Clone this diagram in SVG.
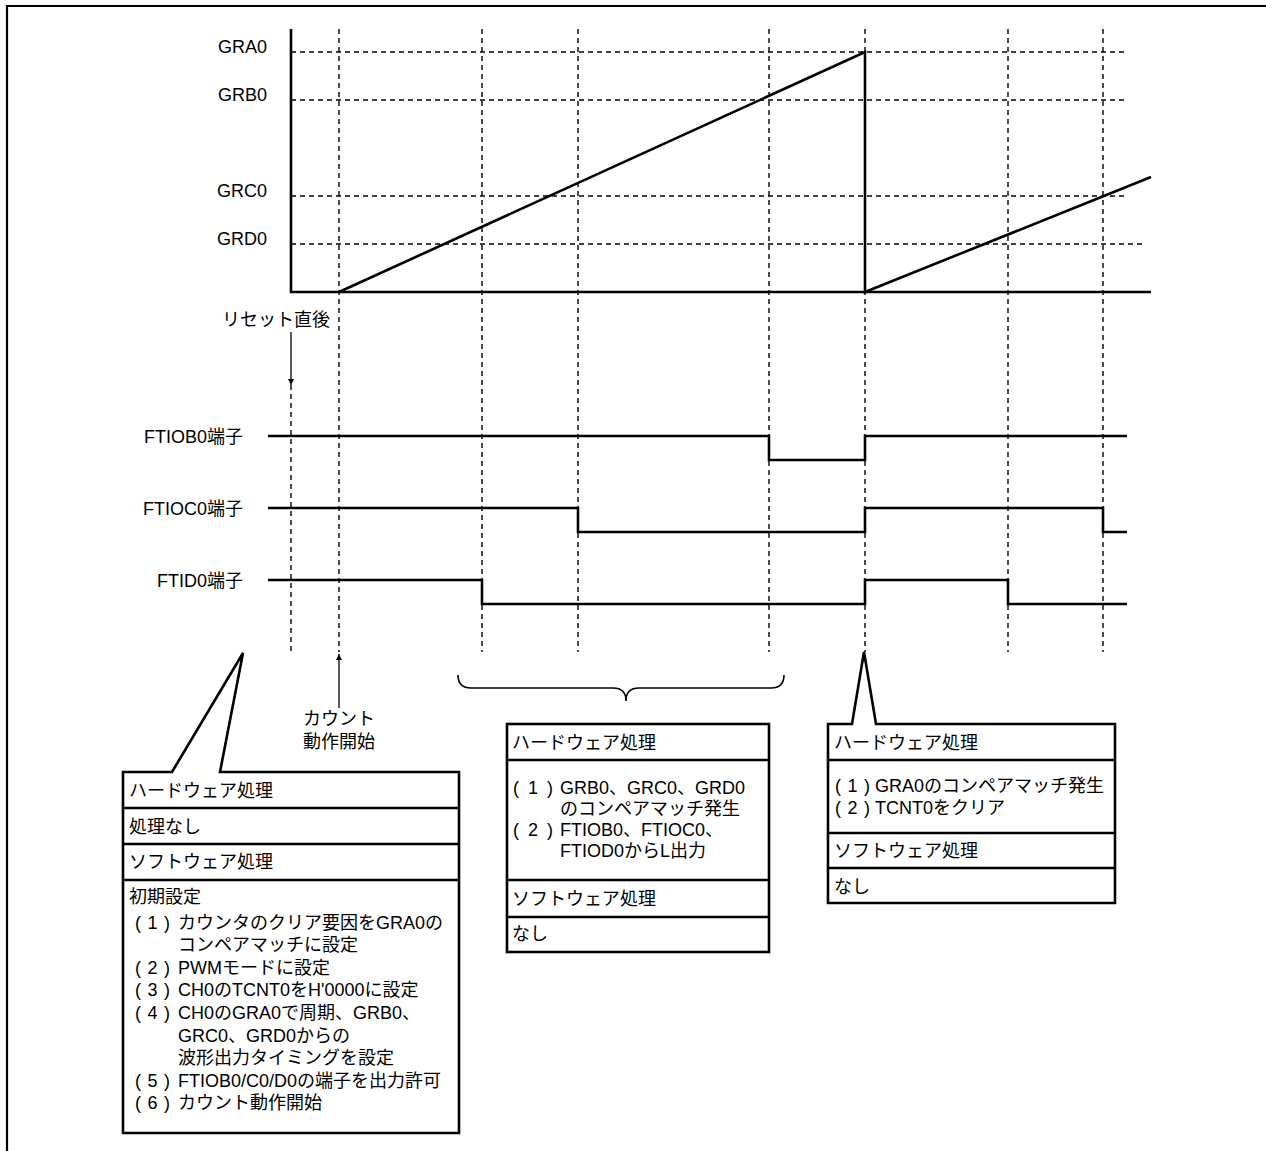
<svg xmlns="http://www.w3.org/2000/svg" width="1266" height="1151" viewBox="0 0 1266 1151">
<style>
text{font-family:"Liberation Sans","Noto Sans CJK JP",sans-serif;font-size:18px;fill:#000}
.r{text-anchor:end}
.dash{stroke:#000;stroke-width:1.4;stroke-dasharray:5,4;fill:none}
.sig{stroke:#000;stroke-width:2.6;fill:none}
.box{stroke:#000;stroke-width:2.6;fill:#fff}
.sep{stroke:#000;stroke-width:2.6}
.thin{stroke:#000;stroke-width:1.3;fill:none}
</style>
<defs>
<marker id="ah" viewBox="0 0 10 10" refX="10" refY="5" markerWidth="6" markerHeight="10" markerUnits="userSpaceOnUse" orient="auto">
<path d="M0,0 L10,5 L0,10 Z" fill="#000"/>
</marker>
</defs>
<rect width="1266" height="1151" fill="#fff"/>
<path d="M7,1151 L7,6 L1266,6" fill="none" stroke="#000" stroke-width="2.2"/>

<g id="grid">
<line class="dash" x1="291" y1="52" x2="1125" y2="52"/>
<line class="dash" x1="291" y1="100" x2="1125" y2="100"/>
<line class="dash" x1="291" y1="196" x2="1125" y2="196"/>
<line class="dash" x1="291" y1="244" x2="1146" y2="244"/>
<line class="dash" x1="339" y1="29" x2="339" y2="652"/>
<line class="dash" x1="482" y1="29" x2="482" y2="652"/>
<line class="dash" x1="578" y1="29" x2="578" y2="652"/>
<line class="dash" x1="769" y1="29" x2="769" y2="652"/>
<line class="dash" x1="865" y1="29" x2="865" y2="652"/>
<line class="dash" x1="1008" y1="29" x2="1008" y2="652"/>
<line class="dash" x1="1103" y1="29" x2="1103" y2="652"/>
<line class="dash" x1="291" y1="385" x2="291" y2="652"/>
</g>

<g id="labels">
<text class="r" x="267" y="53">GRA0</text>
<text class="r" x="267" y="101">GRB0</text>
<text class="r" x="267" y="197">GRC0</text>
<text class="r" x="267" y="245">GRD0</text>
<text class="r" x="243" y="443">FTIOB0端子</text>
<text class="r" x="243" y="515">FTIOC0端子</text>
<text class="r" x="243" y="587">FTID0端子</text>
<text x="222" y="326">リセット直後</text>
<text x="303" y="725">カウント</text>
<text x="303" y="748">動作開始</text>
</g>

<g id="counter">
<path class="sig" d="M291,29 L291,292 L1151,292"/>
<path class="sig" d="M339,292 L865,52 L865,292 L1151,177"/>
</g>

<g id="signals">
<path class="sig" d="M268,436 L769,436 L769,460 L865,460 L865,436 L1127,436"/>
<path class="sig" d="M268,508 L578,508 L578,532 L865,532 L865,508 L1103,508 L1103,532 L1127,532"/>
<path class="sig" d="M268,580 L482,580 L482,604 L865,604 L865,580 L1008,580 L1008,604 L1127,604"/>
</g>

<g id="connectors">
<line class="thin" x1="291" y1="332" x2="291" y2="385" marker-end="url(#ah)"/>
<line class="thin" x1="339" y1="708" x2="339" y2="654" marker-end="url(#ah)"/>
<path d="M458,675 Q458,688 471,688 L613,688 Q626,688 626,701 Q626,688 639,688 L771,688 Q784,688 784,675" fill="none" stroke="#000" stroke-width="1.6"/>
</g>

<g id="box-left">
<path class="box" d="M123,772 L172,772 L243,653 L220,772 L459,772 L459,1133 L123,1133 Z"/>
<line class="sep" x1="123" y1="808" x2="459" y2="808"/>
<line class="sep" x1="123" y1="844" x2="459" y2="844"/>
<line class="sep" x1="123" y1="880" x2="459" y2="880"/>
<text x="129" y="797">ハードウェア処理</text>
<text x="129" y="833">処理なし</text>
<text x="129" y="868">ソフトウェア処理</text>
<text x="129" y="903">初期設定</text>
<text x="135" y="929" textLength="35" lengthAdjust="spacing">( 1 )</text>
<text x="178" y="929">カウンタのクリア要因をGRA0の</text>
<text x="178" y="951">コンペアマッチに設定</text>
<text x="135" y="974" textLength="35" lengthAdjust="spacing">( 2 )</text>
<text x="178" y="974">PWMモードに設定</text>
<text x="135" y="996" textLength="35" lengthAdjust="spacing">( 3 )</text>
<text x="178" y="996">CH0のTCNT0をH'0000に設定</text>
<text x="135" y="1019" textLength="35" lengthAdjust="spacing">( 4 )</text>
<text x="178" y="1019">CH0のGRA0で周期、GRB0、</text>
<text x="178" y="1042">GRC0、GRD0からの</text>
<text x="178" y="1064">波形出力タイミングを設定</text>
<text x="135" y="1087" textLength="35" lengthAdjust="spacing">( 5 )</text>
<text x="178" y="1087">FTIOB0/C0/D0の端子を出力許可</text>
<text x="135" y="1109" textLength="35" lengthAdjust="spacing">( 6 )</text>
<text x="178" y="1109">カウント動作開始</text>
</g>

<g id="box-middle">
<rect class="box" x="507" y="724" width="262" height="228"/>
<line class="sep" x1="507" y1="760" x2="769" y2="760"/>
<line class="sep" x1="507" y1="880" x2="769" y2="880"/>
<line class="sep" x1="507" y1="917" x2="769" y2="917"/>
<text x="512" y="749">ハードウェア処理</text>
<text x="513" y="794" textLength="40" lengthAdjust="spacing">( 1 )</text>
<text x="560" y="794">GRB0、GRC0、GRD0</text>
<text x="560" y="815">のコンペアマッチ発生</text>
<text x="513" y="836" textLength="40" lengthAdjust="spacing">( 2 )</text>
<text x="560" y="836">FTIOB0、FTIOC0、</text>
<text x="560" y="857">FTIOD0からL出力</text>
<text x="512" y="905">ソフトウェア処理</text>
<text x="512" y="940">なし</text>
</g>

<g id="box-right">
<path class="box" d="M828,724 L852,724 L864,652 L876,724 L1115,724 L1115,903 L828,903 Z"/>
<line class="sep" x1="828" y1="760" x2="1115" y2="760"/>
<line class="sep" x1="828" y1="833" x2="1115" y2="833"/>
<line class="sep" x1="828" y1="868" x2="1115" y2="868"/>
<text x="834" y="749">ハードウェア処理</text>
<text x="835" y="792" textLength="35" lengthAdjust="spacing">( 1 )</text>
<text x="875" y="792">GRA0のコンペアマッチ発生</text>
<text x="835" y="814" textLength="35" lengthAdjust="spacing">( 2 )</text>
<text x="875" y="814">TCNT0をクリア</text>
<text x="834" y="857">ソフトウェア処理</text>
<text x="834" y="893">なし</text>
</g>
</svg>
